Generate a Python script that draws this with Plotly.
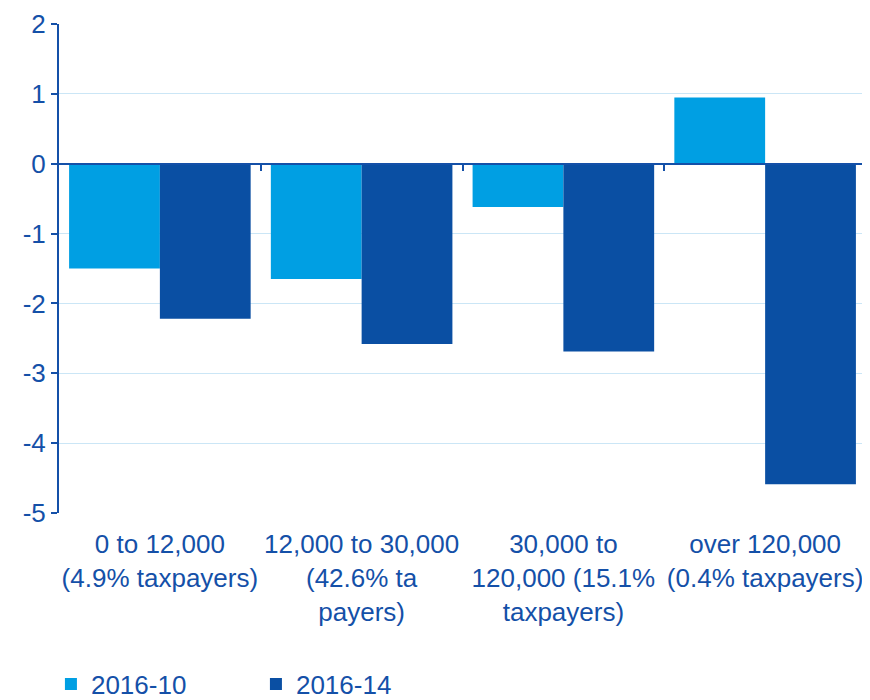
import plotly.graph_objects as go

categories = [
    "0 to 12,000<br>(4.9% taxpayers)",
    "12,000 to 30,000<br>(42.6% ta<br>payers)",
    "30,000 to<br>120,000 (15.1%<br>taxpayers)",
    "over 120,000<br>(0.4% taxpayers)",
]
series_2016_10 = [-1.5, -1.65, -0.62, 0.95]
series_2016_14 = [-2.22, -2.58, -2.69, -4.59]
y_ticks = [2, 1, 0, -1, -2, -3, -4, -5]
y_tick_labels = ["2", "1", "0", "-1", "-2", "-3", "-4", "-5"]

TXT = "#1450A8"
FONT = "Liberation Sans, Arial, sans-serif"

fig = go.Figure()
fig.add_trace(go.Bar(x=[0, 1, 2, 3], y=series_2016_10, name="2016-10",
                     marker=dict(color="#009FE3", line=dict(width=0))))
fig.add_trace(go.Bar(x=[0, 1, 2, 3], y=series_2016_14, name="2016-14",
                     marker=dict(color="#0A4FA3", line=dict(width=0))))
# invisible trace for the zero-line axis with boundary ticks
fig.add_trace(go.Scatter(x=[-0.5, 3.5], y=[0, 0], xaxis="x2", mode="lines",
                         line=dict(width=0), showlegend=False, hoverinfo="skip"))

fig.update_layout(
    width=870, height=700,
    margin=dict(l=51, r=12, t=16, b=195, autoexpand=False),
    paper_bgcolor="white", plot_bgcolor="white",
    barmode="group", bargap=0.1, bargroupgap=0,
    font=dict(family=FONT, size=26, color=TXT),
    xaxis=dict(range=[-0.5, 3.5], tickmode="array", tickvals=[0, 1, 2, 3],
               ticktext=categories, showgrid=False, zeroline=False, automargin=False,
               showline=False, ticks="", ticklabelstandoff=13,
               tickfont=dict(size=26, color=TXT)),
    xaxis2=dict(overlaying="x", anchor="free", position=5.002/7.004, side="bottom",
                range=[-0.5, 3.5], showline=True, linecolor=TXT, linewidth=2,
                ticks="outside", ticklen=6, tickwidth=2, tickcolor=TXT, automargin=False,
                tickmode="array", tickvals=[0.5, 1.5, 2.5, 3.5],
                showticklabels=False, showgrid=False, zeroline=False),
    yaxis=dict(range=[-5.002, 2.002], tickmode="array", tickvals=y_ticks, ticktext=y_tick_labels,
               showgrid=True, gridcolor="#CBE6F6", gridwidth=1, automargin=False,
               zeroline=False, showline=True, linecolor=TXT, linewidth=2,
               ticks="outside", ticklen=6, tickwidth=2, tickcolor=TXT,
               ticklabeloverflow="allow",
               ticklabelstandoff=0, tickfont=dict(size=26, color=TXT)),
    legend=dict(orientation="h", x=-0.01, xanchor="left", y=-0.35, yanchor="middle",
                entrywidth=160, font=dict(size=26, color=TXT),
                itemwidth=30, traceorder="normal"),
)

fig.write_html("out.html")
